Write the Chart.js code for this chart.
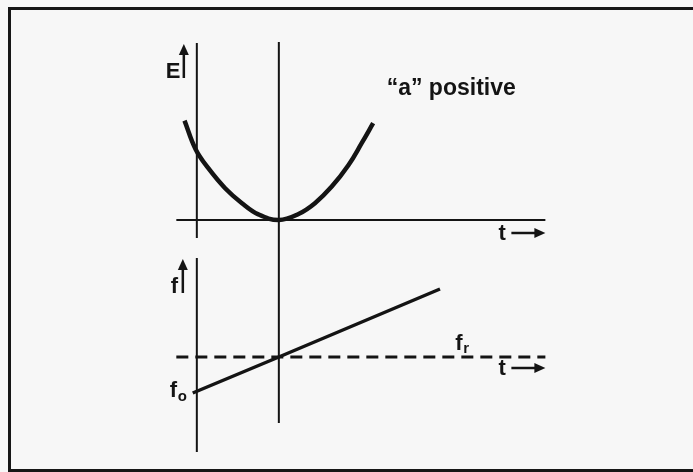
<!DOCTYPE html>
<html>
<head>
<meta charset="utf-8">
<script src="https://cdn.jsdelivr.net/npm/chart.js@4.4.1/dist/chart.umd.min.js"></script>
<style>
  html, body { margin: 0; padding: 0; background: #f7f7f7; overflow: hidden; }
  canvas { display: block; }
</style>
</head>
<body>
<canvas id="chart" width="693" height="472"></canvas>
<script>
// energy curve (t, E)
var eTimes  = [-2.3, -2.03, -1.72, -1.31, -0.9, -0.5, 0, 0.48, 0.88, 1.29, 1.7, 2.02, 2.3];
var eValues = [4.97, 3.54, 2.59, 1.59, 0.84, 0.28, 0, 0.3, 0.84, 1.67, 2.75, 3.84, 4.84];

// frequency line, lower panel (t, f)
var fTimes  = [-2.1, 0, 3.93];
var fValues = [3.95, 5.75, 9.15];
var fResonance = 5.75;

// axis extents
var tAxis = [-2.5, 6.5];
var eAxis = [-0.9, 8.85];
var fAxis = [1.0, 10.7];
var eAxisTime = -2;
var centreTop = 8.9;     // E value where the t = 0 line starts
var centreBottom = 2.45; // f value where it ends

var ink = '#141414';

function pts(xs, ys) {
  return xs.map(function (x, i) { return { x: x, y: ys[i] }; });
}

function seg(x1, y1, x2, y2) {
  return [{ x: x1, y: y1 }, { x: x2, y: y2 }];
}

function lineSet(data, axis, width, extra) {
  var ds = {
    data: data,
    yAxisID: axis,
    borderColor: ink,
    borderWidth: width,
    pointRadius: 0,
    borderCapStyle: 'butt',
    fill: false
  };
  for (var k in extra) ds[k] = extra[k];
  return ds;
}

function arrow(ctx, x1, y1, x2, y2) {
  var ang = Math.atan2(y2 - y1, x2 - x1);
  var len = 11, half = 5;
  ctx.beginPath();
  ctx.moveTo(x1, y1);
  ctx.lineTo(x2 - Math.cos(ang) * (len - 2), y2 - Math.sin(ang) * (len - 2));
  ctx.lineWidth = 2.5;
  ctx.strokeStyle = ink;
  ctx.stroke();
  ctx.beginPath();
  ctx.moveTo(x2, y2);
  ctx.lineTo(x2 - Math.cos(ang) * len - Math.sin(ang) * half, y2 - Math.sin(ang) * len + Math.cos(ang) * half);
  ctx.lineTo(x2 - Math.cos(ang) * len + Math.sin(ang) * half, y2 - Math.sin(ang) * len - Math.cos(ang) * half);
  ctx.closePath();
  ctx.fillStyle = ink;
  ctx.fill();
}

// page frame round the figure (its right edge is cut off in the scan)
var frame = {
  id: 'frame',
  beforeDraw: function (chart) {
    var ctx = chart.ctx;
    ctx.save();
    ctx.fillStyle = '#f7f7f7';
    ctx.fillRect(0, 0, chart.width, chart.height);
    ctx.lineWidth = 3;
    ctx.strokeStyle = '#161616';
    ctx.strokeRect(9.5, 8.5, chart.width + 20, chart.height - 10);
    ctx.restore();
  }
};

var annotate = {
  id: 'annotate',
  afterDatasetsDraw: function (chart) {
    var ctx = chart.ctx;
    var x = chart.scales.x, yE = chart.scales.yE, yF = chart.scales.yF;
    var big = 'bold 22px "Liberation Sans", Arial, sans-serif';
    var small = 'bold 15px "Liberation Sans", Arial, sans-serif';
    ctx.save();
    ctx.fillStyle = ink;
    ctx.textBaseline = 'alphabetic';
    ctx.textAlign = 'left';

    // E axis label with arrow
    var ax = x.getPixelForValue(eAxisTime);
    var eTop = yE.getPixelForValue(eAxis[1]);
    ctx.font = big;
    ctx.fillText('E', ax - 31, eTop + 35);
    arrow(ctx, ax - 13, eTop + 35, ax - 13, eTop + 1);

    // f axis label with arrow
    var fTop = yF.getPixelForValue(fAxis[1]);
    ctx.fillStyle = ink;
    ctx.fillText('f', ax - 26, fTop + 35);
    arrow(ctx, ax - 14, fTop + 35, ax - 14, fTop + 1);

    // t labels
    var tEnd = x.getPixelForValue(tAxis[1]);
    var e0 = yE.getPixelForValue(0);
    ctx.fillStyle = ink;
    ctx.fillText('t', tEnd - 47, e0 + 20);
    arrow(ctx, tEnd - 34, e0 + 13, tEnd, e0 + 13);
    var fr = yF.getPixelForValue(fResonance);
    ctx.fillStyle = ink;
    ctx.fillText('t', tEnd - 47, fr + 18);
    arrow(ctx, tEnd - 34, fr + 11, tEnd, fr + 11);

    // title
    ctx.fillStyle = ink;
    ctx.font = 'bold 23px "Liberation Sans", Arial, sans-serif';
    ctx.fillText('\u201ca\u201d positive', x.getPixelForValue(2.63), yE.getPixelForValue(6.25));

    // f_r and f_o
    ctx.font = big;
    var frx = x.getPixelForValue(4.3);
    ctx.fillText('f', frx, fr - 7);
    ctx.font = small;
    ctx.fillText('r', frx + 8, fr - 4);
    var ox = x.getPixelForValue(fTimes[0]);
    var oy = yF.getPixelForValue(fValues[0]);
    ctx.font = big;
    ctx.fillText('f', ox - 23, oy + 4);
    ctx.font = small;
    ctx.fillText('o', ox - 15, oy + 8);
    ctx.restore();
  }
};

new Chart(document.getElementById('chart'), {
  type: 'line',
  data: {
    datasets: [
      lineSet(seg(tAxis[0], 0, tAxis[1], 0), 'yE', 2),
      lineSet(seg(eAxisTime, eAxis[0], eAxisTime, eAxis[1]), 'yE', 2),
      lineSet(seg(0, centreTop, 0, -1), 'yE', 2),
      lineSet(seg(0, 11.6, 0, centreBottom), 'yF', 2),
      lineSet(seg(eAxisTime, fAxis[0], eAxisTime, fAxis[1]), 'yF', 2),
      lineSet(seg(tAxis[0], fResonance, tAxis[1], fResonance), 'yF', 3, { borderDash: [12, 7] }),
      lineSet(pts(eTimes, eValues), 'yE', 4.5, { tension: 0.4 }),
      lineSet(pts(fTimes, fValues), 'yF', 3.5)
    ]
  },
  options: {
    responsive: false,
    animation: false,
    events: [],
    layout: { padding: 0 },
    plugins: { legend: { display: false }, tooltip: { enabled: false } },
    scales: {
      x: { type: 'linear', min: -6.8, max: 10.1, display: false },
      yE: { type: 'linear', position: 'left', min: -12.6, max: 11, display: false },
      yF: { type: 'linear', position: 'left', min: 0, max: 23.6, display: false }
    }
  },
  plugins: [frame, annotate]
});
</script>
</body>
</html>
